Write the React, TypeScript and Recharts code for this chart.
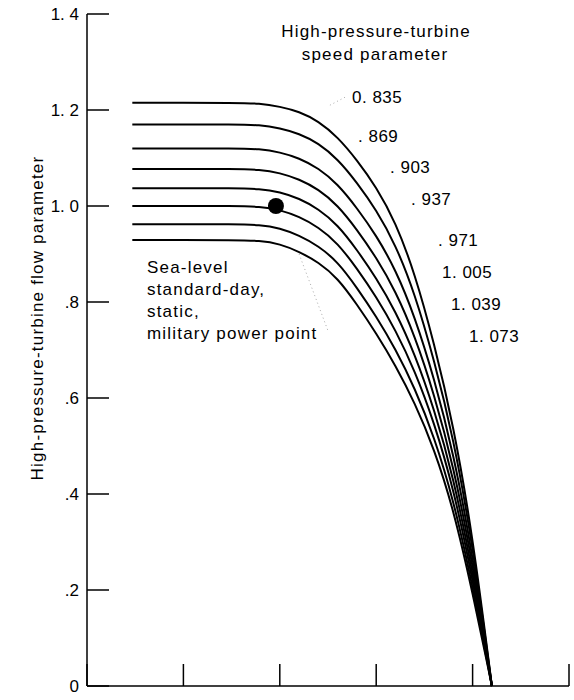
import React from 'react';
import { LineChart, Line, XAxis, YAxis, ReferenceDot, ReferenceLine } from 'recharts';

// corrected-speed curves, flow parameter
const xGrid = [0.47, 1.0, 1.5, 1.8, 2.0, 2.2, 2.4, 2.6, 2.8, 3.0, 3.2, 3.4, 3.6, 3.8, 4.0, 4.2];
const flow0835 = [1.215, 1.215, 1.215, 1.214, 1.207, 1.197, 1.177, 1.144, 1.096, 1.040, 0.967, 0.860, 0.715, 0.545, 0.315, 0];
const flow0869 = [1.170, 1.170, 1.170, 1.169, 1.162, 1.151, 1.131, 1.098, 1.049, 0.992, 0.920, 0.818, 0.680, 0.518, 0.296, 0];
const flow0903 = [1.120, 1.120, 1.120, 1.119, 1.112, 1.100, 1.079, 1.046, 0.996, 0.939, 0.868, 0.770, 0.642, 0.487, 0.275, 0];
const flow0937 = [1.077, 1.077, 1.077, 1.076, 1.069, 1.056, 1.035, 1.002, 0.951, 0.893, 0.823, 0.730, 0.609, 0.460, 0.257, 0];
const flow0971 = [1.037, 1.037, 1.037, 1.036, 1.029, 1.016, 0.994, 0.961, 0.909, 0.850, 0.781, 0.692, 0.578, 0.436, 0.240, 0];
const flow1005 = [1.000, 1.000, 1.000, 0.999, 0.992, 0.978, 0.956, 0.923, 0.870, 0.811, 0.742, 0.657, 0.550, 0.413, 0.225, 0];
const flow1039 = [0.962, 0.962, 0.962, 0.961, 0.954, 0.939, 0.917, 0.884, 0.830, 0.770, 0.702, 0.621, 0.520, 0.390, 0.209, 0];
const flow1073 = [0.929, 0.929, 0.929, 0.928, 0.921, 0.905, 0.883, 0.850, 0.795, 0.735, 0.668, 0.590, 0.495, 0.370, 0.195, 0];

const speedLabels = ['0. 835', '. 869', '. 903', '. 937', '. 971', '1. 005', '1. 039', '1. 073'];
const yTicks = [0, 0.2, 0.4, 0.6, 0.8, 1.0, 1.2, 1.4];
const xTicks = [0, 1, 2, 3, 4, 5];
const designPoint = { x: 1.96, y: 1.0 };

const series = [flow0835, flow0869, flow0903, flow0937, flow0971, flow1005, flow1039, flow1073];
const keys = ['s0835', 's0869', 's0903', 's0937', 's0971', 's1005', 's1039', 's1073'];

const data = xGrid.map((x, i) => {
  const row: Record<string, number> = { x };
  keys.forEach((k, j) => { row[k] = series[j][i]; });
  return row;
});

// where the speed labels sit (left x, baseline y)
const labelPos = [
  [352, 103], [358, 142], [390, 173], [411, 205],
  [438, 246], [442, 278], [451, 310], [469, 342],
];

const FONT = '"Liberation Sans", Arial, sans-serif';

const fmtY = (v: number) => {
  if (v === 0) return '0';
  if (v < 1) return '.' + Math.round(v * 10);
  return v.toFixed(1).replace('.', '. ');
};

const YTick = (props: any) => {
  const { x, y, payload } = props;
  return (
    <g>
      <line x1={x} y1={y} x2={x + 22} y2={y} stroke="#000" strokeWidth={1.5} />
      <text x={x - 8} y={y + 6} textAnchor="end" fontSize={17} fontFamily={FONT} fill="#000">
        {fmtY(payload.value)}
      </text>
    </g>
  );
};

const XTick = (props: any) => {
  const { x, y } = props;
  return <line x1={x} y1={y} x2={x} y2={y - 22} stroke="#000" strokeWidth={1.5} />;
};

const txt = { fontSize: 17, fontFamily: FONT, fill: '#000', letterSpacing: 1.2 } as const;

export default function App() {
  return (
    <div style={{ position: 'absolute', left: 0, top: 0, width: 574, height: 700, background: '#fff' }}>
      <LineChart width={574} height={700} data={data} margin={{ top: 14, right: 5, bottom: 0, left: 27 }}>
        <XAxis
          dataKey="x"
          type="number"
          domain={[0, 5]}
          ticks={xTicks}
          tickSize={0}
          tickMargin={0}
          tickLine={false}
          tick={<XTick />}
          height={14}
          axisLine={{ stroke: '#000', strokeWidth: 1.5 }}
        />
        <YAxis
          type="number"
          domain={[0, 1.4]}
          ticks={yTicks}
          tickSize={0}
          tickMargin={0}
          tickLine={false}
          tick={<YTick />}
          width={60}
          axisLine={{ stroke: '#000', strokeWidth: 1.5 }}
        />
        {keys.map((k) => (
          <Line
            key={k}
            dataKey={k}
            type="basis"
            stroke="#000"
            strokeWidth={2}
            dot={false}
            isAnimationActive={false}
          />
        ))}
        <ReferenceLine
          segment={[{ x: 2.2, y: 0.9 }, { x: 2.5, y: 0.74 }]}
          stroke="#aaa"
          strokeWidth={1}
          strokeDasharray="1 3"
        />
        <ReferenceLine
          segment={[{ x: 2.52, y: 1.21 }, { x: 2.68, y: 1.227 }]}
          stroke="#aaa"
          strokeWidth={1}
          strokeDasharray="1 3"
        />
        <ReferenceDot x={designPoint.x} y={designPoint.y} r={8} fill="#000" stroke="none" />
      </LineChart>
      <svg width={574} height={700} style={{ position: 'absolute', left: 0, top: 0, pointerEvents: 'none' }}>
        <text x={376} y={37} textAnchor="middle" {...txt}>High-pressure-turbine</text>
        <text x={375} y={60} textAnchor="middle" {...txt}>speed parameter</text>
        {speedLabels.map((s, i) => (
          <text key={s} x={labelPos[i][0]} y={labelPos[i][1]} {...txt} letterSpacing={0.5}>{s}</text>
        ))}
        <text x={147} y={273} {...txt}>Sea-level</text>
        <text x={147} y={295} {...txt}>standard-day,</text>
        <text x={147} y={317} {...txt}>static,</text>
        <text x={147} y={339} {...txt}>military power point</text>
        <text
          x={0}
          y={0}
          transform="translate(43 318) rotate(-90)"
          textAnchor="middle"
          {...txt}
        >
          High-pressure-turbine flow parameter
        </text>
      </svg>
    </div>
  );
}
